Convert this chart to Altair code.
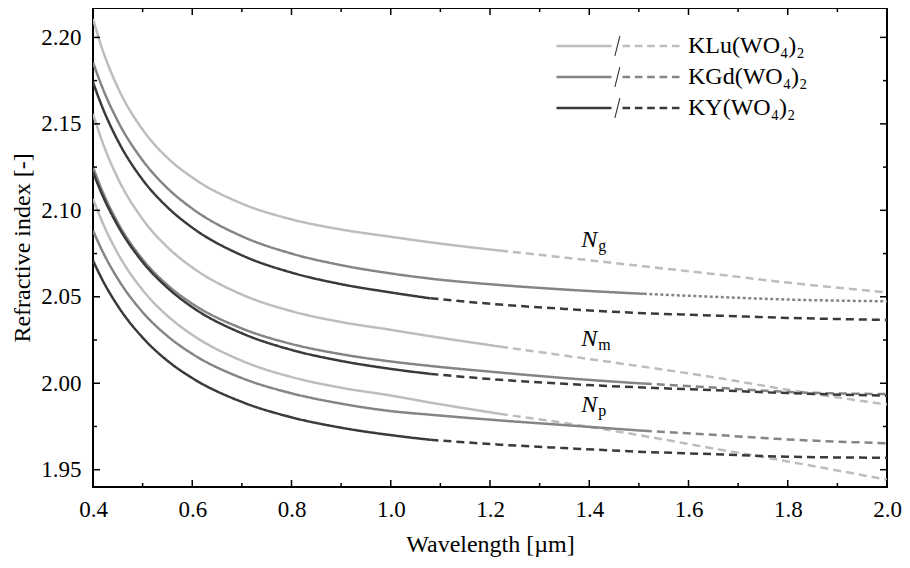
import altair as alt
import pandas as pd

# ---------------- data ----------------
wavelength = [0.40, 0.42, 0.45, 0.50, 0.55, 0.60, 0.70, 0.80, 0.90, 1.00,
              1.08, 1.22, 1.35, 1.51, 1.65, 1.80, 2.00]

materials = ["KLu(WO₄)₂", "KGd(WO₄)₂", "KY(WO₄)₂"]
polarizations = ["Ng", "Nm", "Np"]
# end of measured (solid) range for each material, in µm
measured_until = [1.22, 1.51, 1.08]

klu_ng = [2.2106, 2.1922, 2.1710, 2.1467, 2.1304, 2.1190, 2.1039, 2.0948, 2.0889, 2.0847,
          2.0815, 2.0767, 2.0727, 2.0676, 2.0632, 2.0582, 2.0526]
klu_nm = [2.1557, 2.1387, 2.1186, 2.0949, 2.0787, 2.0670, 2.0513, 2.0417, 2.0354, 2.0309,
          2.0272, 2.0212, 2.0160, 2.0095, 2.0035, 1.9962, 1.9877]
klu_np = [2.1066, 2.0924, 2.0751, 2.0539, 2.0390, 2.0280, 2.0130, 2.0036, 1.9974, 1.9929,
          1.9888, 1.9823, 1.9770, 1.9695, 1.9623, 1.9548, 1.9442]

kgd_ng = [2.1855, 2.1702, 2.1516, 2.1289, 2.1128, 2.1010, 2.0850, 2.0750, 2.0683, 2.0635,
          2.0605, 2.0568, 2.0542, 2.0517, 2.0500, 2.0484, 2.0474]
kgd_nm = [2.1249, 2.1103, 2.0928, 2.0716, 2.0568, 2.0460, 2.0317, 2.0227, 2.0168, 2.0126,
          2.0100, 2.0062, 2.0030, 1.9998, 1.9975, 1.9950, 1.9937]
kgd_np = [2.0883, 2.0758, 2.0604, 2.0411, 2.0273, 2.0170, 2.0030, 1.9942, 1.9882, 1.9839,
          1.9818, 1.9785, 1.9758, 1.9725, 1.9702, 1.9675, 1.9653]

ky_ng = [2.1740, 2.1588, 2.1403, 2.1177, 2.1018, 2.0900, 2.0740, 2.0640, 2.0573, 2.0525,
         2.0491, 2.0455, 2.0430, 2.0405, 2.0392, 2.0378, 2.0366]
ky_nm = [2.1220, 2.1081, 2.0911, 2.0701, 2.0552, 2.0440, 2.0289, 2.0193, 2.0129, 2.0083,
         2.0054, 2.0020, 1.9997, 1.9975, 1.9960, 1.9943, 1.9928]
ky_np = [2.0709, 2.0592, 2.0447, 2.0264, 2.0130, 2.0030, 1.9892, 1.9803, 1.9743, 1.9700,
         1.9673, 1.9645, 1.9625, 1.9603, 1.9590, 1.9575, 1.9569]

series = {
    ("KLu(WO₄)₂", "Ng"): klu_ng, ("KLu(WO₄)₂", "Nm"): klu_nm, ("KLu(WO₄)₂", "Np"): klu_np,
    ("KGd(WO₄)₂", "Ng"): kgd_ng, ("KGd(WO₄)₂", "Nm"): kgd_nm, ("KGd(WO₄)₂", "Np"): kgd_np,
    ("KY(WO₄)₂", "Ng"): ky_ng, ("KY(WO₄)₂", "Nm"): ky_nm, ("KY(WO₄)₂", "Np"): ky_np,
}

# axis ticks
x_ticks = [0.4, 0.6, 0.8, 1.0, 1.2, 1.4, 1.6, 1.8, 2.0]
x_minor = [0.5, 0.7, 0.9, 1.1, 1.3, 1.5, 1.7, 1.9]
y_ticks = [1.95, 2.00, 2.05, 2.10, 2.15, 2.20]
y_minor = [1.975, 2.025, 2.075, 2.125, 2.175]

# annotation labels
ann_main = ["N", "N", "N"]
ann_sub = ["g", "m", "p"]
ann_x = [1.40, 1.40, 1.40]
ann_y = [2.0786, 2.0218, 1.9832]

# legend separators ("/" between the solid and the dashed sample)
slash_keys = ["sep-1", "sep-2", "sep-3"]

# ---------------- build table ----------------
rows = []
for mi, mat in enumerate(materials):
    cut = measured_until[mi]
    for pol in polarizations:
        vals = series[(mat, pol)]
        ext = "dotted" if (mat.startswith("KGd") and pol == "Ng") else "dashed"
        for lam, n in zip(wavelength, vals):
            if lam <= cut + 1e-9:
                rows.append(dict(material=mat, pol=pol, style="solid",
                                 grp=f"{mat}-{pol}-s", lam=lam, n=n))
            if lam >= cut - 1e-9:
                rows.append(dict(material=mat, pol=pol, style=ext,
                                 grp=f"{mat}-{pol}-e", lam=lam, n=n))
df = pd.DataFrame(rows)

FONT = "Liberation Serif"
W, H = 794, 479
xs = alt.Scale(domain=[0.4, 2.0], nice=False, zero=False)
ys = alt.Scale(domain=[1.94, 2.217], nice=False, zero=False)

X_AXIS = alt.Axis(title="Wavelength [µm]", values=x_ticks, format=".1f",
                  labelPadding=11, titlePadding=11, labelFlush=False)
Y_AXIS = alt.Axis(title="Refractive index [-]", values=y_ticks, format=".2f",
                  labelPadding=12, titlePadding=6, labelFlush=False)

# legend symbol: solid segment, then dashed segment (slash drawn by a second legend)
legend_path = ("M-1,0H-0.106"
               "M0.073,0H0.197M0.274,0H0.398M0.475,0H0.599M0.676,0H0.8M0.877,0H1")
slash_path = "M-0.05,0.16L0.03,-0.16"

lines = alt.Chart(df).mark_line(strokeWidth=2.5, interpolate="monotone", clip=True,
                                strokeCap="butt").encode(
    x=alt.X("lam:Q", scale=xs, axis=X_AXIS),
    y=alt.Y("n:Q", scale=ys, axis=Y_AXIS),
    color=alt.Color("material:N",
                    scale=alt.Scale(domain=materials, range=["#bdbdbd", "#858585", "#3a3a3a"]),
                    sort=materials,
                    legend=alt.Legend(title=None, orient="none", legendX=462, legendY=25,
                                      symbolType=legend_path, symbolSize=15129,
                                      symbolStrokeWidth=2.5, clipHeight=26, rowPadding=5,
                                      labelFont=FONT, labelFontSize=24, labelOffset=7,
                                      labelColor="black", labelLimit=400, padding=0)),
    strokeDash=alt.StrokeDash("style:N",
                              scale=alt.Scale(domain=["solid", "dashed", "dotted"],
                                              range=[[1, 0], [8, 5], [3, 2.5]]),
                              legend=None),
    detail="grp:N",
)

slash_layer = alt.Chart(pd.DataFrame({"sep": slash_keys})).transform_filter(
    "false").mark_point().encode(
    shape=alt.Shape("sep:N",
                    scale=alt.Scale(domain=slash_keys, range=[slash_path] * 3),
                    legend=alt.Legend(title=None, orient="none", legendX=462.5, legendY=25,
                                      symbolSize=15129, symbolStrokeWidth=1.1,
                                      symbolStrokeColor="#333333",
                                      symbolFillColor="transparent", symbolOpacity=1,
                                      symbolDash=[1, 0],
                                      clipHeight=26, rowPadding=5, labelExpr="''",
                                      labelFontSize=24, padding=0)),
)

def tick_layer(vals, axis, side, length):
    d = pd.DataFrame({"lam": vals, "n": vals})
    base = alt.Chart(d).mark_rule(color="black", strokeWidth=1.5)
    if axis == "y":
        xa, xb = (0, length) if side == "left" else (W - length, W)
        return base.encode(y=alt.Y("n:Q", scale=ys, axis=Y_AXIS),
                           x=alt.value(xa), x2=alt.value(xb))
    ya, yb = (H - length, H) if side == "bottom" else (0, length)
    return base.encode(x=alt.X("lam:Q", scale=xs, axis=X_AXIS),
                       y=alt.value(ya), y2=alt.value(yb))

ticks = []
for side in ["left", "right"]:
    ticks.append(tick_layer(y_ticks, "y", side, 7))
    ticks.append(tick_layer(y_minor, "y", side, 4))
for side in ["bottom", "top"]:
    ticks.append(tick_layer(x_ticks, "x", side, 7))
    ticks.append(tick_layer(x_minor, "x", side, 4))

ann = pd.DataFrame({"main": ann_main, "sub": ann_sub, "lam": ann_x, "n": ann_y})
ann_n = alt.Chart(ann).mark_text(font=FONT, fontSize=24, fontStyle="italic",
                                 align="center", baseline="alphabetic", color="black").encode(
    x=alt.X("lam:Q", scale=xs, axis=X_AXIS), y=alt.Y("n:Q", scale=ys, axis=Y_AXIS),
    text="main:N")
ann_s = alt.Chart(ann).mark_text(font=FONT, fontSize=16, align="left", dx=9, dy=4,
                                 baseline="alphabetic", color="black").encode(
    x=alt.X("lam:Q", scale=xs, axis=X_AXIS), y=alt.Y("n:Q", scale=ys, axis=Y_AXIS),
    text="sub:N")

chart = alt.layer(lines, *ticks, ann_n, ann_s, slash_layer).properties(
    width=W, height=H,
    autosize=alt.AutoSizeParams(type="none"),
    padding={"left": 85, "top": 0, "right": 15, "bottom": 73},
    background="white",
).configure_view(stroke="black", strokeWidth=2).configure_axis(
    grid=False, ticks=False, domain=False,
    labelFont=FONT, labelFontSize=23, labelColor="black",
    titleFont=FONT, titleFontSize=24, titleFontWeight="normal", titleColor="black",
)

chart.save("out.html", embed_options={"renderer": "svg", "actions": False})
